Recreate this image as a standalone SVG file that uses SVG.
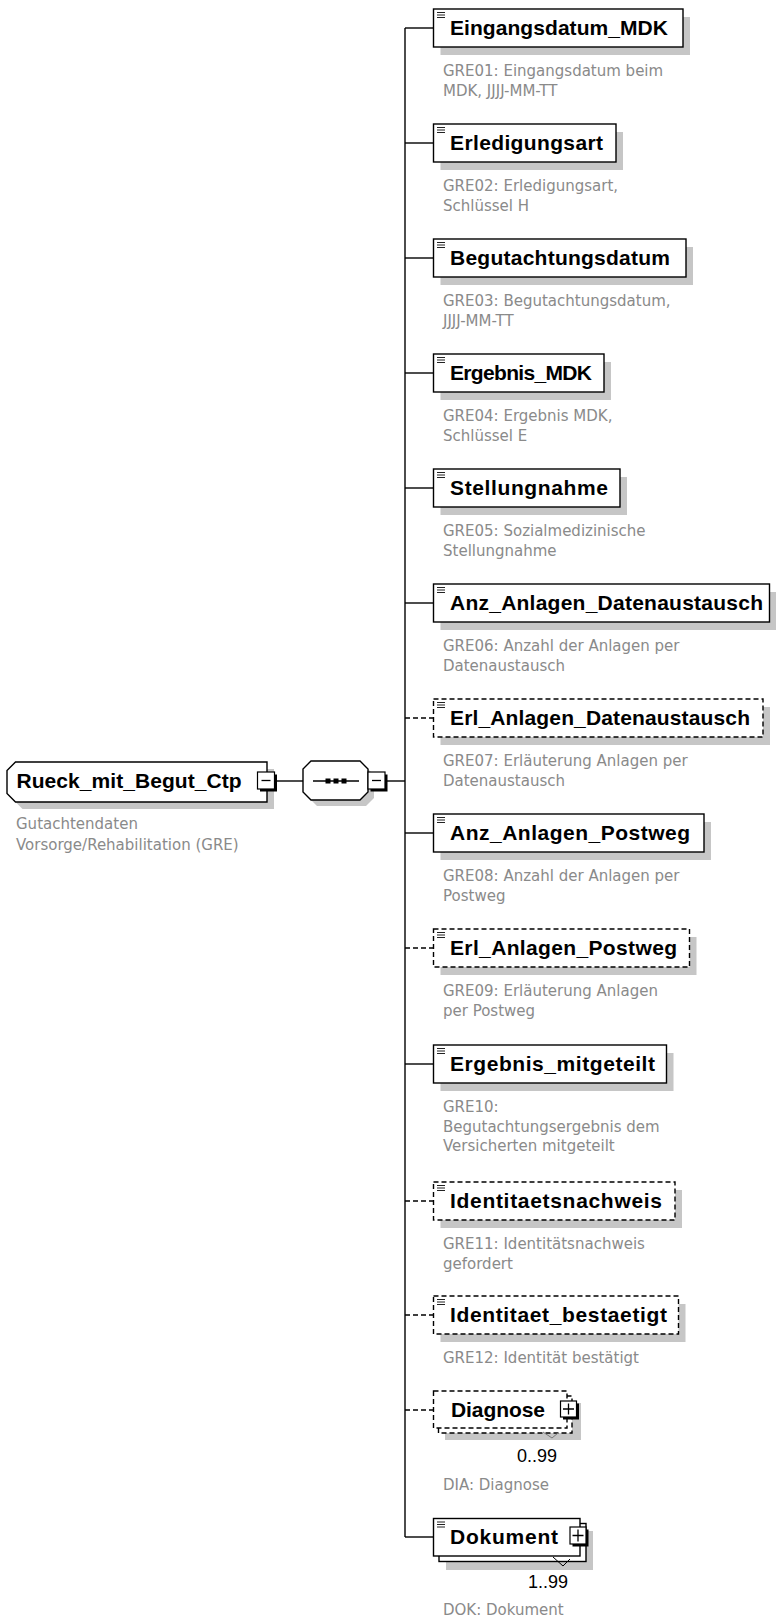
<svg xmlns="http://www.w3.org/2000/svg" xmlns:xlink="http://www.w3.org/1999/xlink" width="776" height="1621" viewBox="0 0 776 1621">
<style>
.bg{fill:#fff}
.box{fill:#fff;stroke:#000;stroke-width:1.4}
.dash{stroke-dasharray:5 3}
.shadow{fill:#c6c6c6}
.name{font-family:"Liberation Sans",Arial,sans-serif;font-weight:bold;font-size:21px;fill:#000}
.desc{font-family:"DejaVu Sans",Verdana,sans-serif;font-size:15px;fill:#8a8a8a}
.occ{font-family:"Liberation Sans",Arial,sans-serif;font-size:18px;fill:#000}
.conn line{stroke:#000;stroke-width:1.4}
.btn{fill:#fff;stroke:#000;stroke-width:1.2}
.btnsh{fill:#000}
.sign{stroke:#000;stroke-width:1.3;fill:none}
</style>
<defs>
<path id="ico" d="M0 0h8M0 2.5h8M0 5h8" stroke="#222" stroke-width="1" fill="none"/>
</defs>
<rect class="bg" x="0" y="0" width="776" height="1621"/>

<g id="connectors" class="conn">
<line x1="277" y1="781" x2="303" y2="781"/>
<line x1="387" y1="781" x2="405" y2="781"/>
<line x1="405" y1="28" x2="405" y2="1537"/>
<line x1="405" y1="28" x2="433.5" y2="28"/>
<line x1="405" y1="143" x2="433.5" y2="143"/>
<line x1="405" y1="258" x2="433.5" y2="258"/>
<line x1="405" y1="373" x2="433.5" y2="373"/>
<line x1="405" y1="488" x2="433.5" y2="488"/>
<line x1="405" y1="603" x2="433.5" y2="603"/>
<line class="dash" x1="405" y1="718" x2="433.5" y2="718"/>
<line x1="405" y1="833" x2="433.5" y2="833"/>
<line class="dash" x1="405" y1="948" x2="433.5" y2="948"/>
<line x1="405" y1="1064" x2="433.5" y2="1064"/>
<line class="dash" x1="405" y1="1201" x2="433.5" y2="1201"/>
<line class="dash" x1="405" y1="1315" x2="433.5" y2="1315"/>
<line class="dash" x1="405" y1="1410" x2="433.5" y2="1410"/>
<line x1="405" y1="1537" x2="433.5" y2="1537"/>
</g>

<g id="root">
<path class="shadow" d="M22.5 769 H274 V809 H22.5 L14 800.5 V777.5 Z"/>
<path class="box" d="M15.5 762 H267 V802 H15.5 L7 793.5 V770.5 Z"/>
<text class="name" x="16.5" y="788" textLength="225">Rueck_mit_Begut_Ctp</text>
<rect class="btnsh" x="260" y="774.5" width="17" height="17"/>
<rect class="btn" x="257.5" y="772" width="17" height="17"/>
<path class="sign" d="M261.5 780.5h9"/>
<text class="desc" x="16" y="829">Gutachtendaten</text>
<text class="desc" x="16" y="850">Vorsorge/Rehabilitation (GRE)</text>
</g>

<g id="sequence">
<path class="shadow" d="M317 767 H366 L374 775 V798 L366 806 H317 L309 798 V775 Z"/>
<path class="box" d="M311 761 H360 L368 769 V792 L360 800 H311 L303 792 V769 Z"/>
<path class="sign" d="M313 781H359"/>
<rect x="325.5" y="778.5" width="5" height="5" fill="#000"/>
<rect x="333.5" y="778.5" width="5" height="5" fill="#000"/>
<rect x="341.5" y="778.5" width="5" height="5" fill="#000"/>
<rect class="btnsh" x="370.5" y="774.5" width="17" height="17"/>
<rect class="btn" x="368" y="772" width="17" height="17"/>
<path class="sign" d="M372 780.5h9"/>
</g>

<g id="n01">
<rect class="shadow" x="440.5" y="17" width="249.5" height="38"/>
<rect class="box" x="433.5" y="9" width="249.5" height="38"/>
<use xlink:href="#ico" x="437" y="12.5"/>
<text class="name" x="450" y="35" textLength="218">Eingangsdatum_MDK</text>
<text class="desc" x="443" y="76">GRE01: Eingangsdatum beim</text>
<text class="desc" x="443" y="95.5">MDK, JJJJ-MM-TT</text>
</g>

<g id="n02">
<rect class="shadow" x="440.5" y="132" width="182.5" height="38"/>
<rect class="box" x="433.5" y="124" width="182.5" height="38"/>
<use xlink:href="#ico" x="437" y="127.5"/>
<text class="name" x="450" y="150" textLength="153">Erledigungsart</text>
<text class="desc" x="443" y="191">GRE02: Erledigungsart,</text>
<text class="desc" x="443" y="210.5">Schlüssel H</text>
</g>

<g id="n03">
<rect class="shadow" x="440.5" y="247" width="252.5" height="38"/>
<rect class="box" x="433.5" y="239" width="252.5" height="38"/>
<use xlink:href="#ico" x="437" y="242.5"/>
<text class="name" x="450" y="265" textLength="220">Begutachtungsdatum</text>
<text class="desc" x="443" y="306">GRE03: Begutachtungsdatum,</text>
<text class="desc" x="443" y="325.5">JJJJ-MM-TT</text>
</g>

<g id="n04">
<rect class="shadow" x="440.5" y="362" width="170.5" height="38"/>
<rect class="box" x="433.5" y="354" width="170.5" height="38"/>
<use xlink:href="#ico" x="437" y="357.5"/>
<text class="name" x="450" y="380" textLength="142">Ergebnis_MDK</text>
<text class="desc" x="443" y="421">GRE04: Ergebnis MDK,</text>
<text class="desc" x="443" y="440.5">Schlüssel E</text>
</g>

<g id="n05">
<rect class="shadow" x="440.5" y="477" width="186.5" height="38"/>
<rect class="box" x="433.5" y="469" width="186.5" height="38"/>
<use xlink:href="#ico" x="437" y="472.5"/>
<text class="name" x="450" y="495" textLength="158">Stellungnahme</text>
<text class="desc" x="443" y="536">GRE05: Sozialmedizinische</text>
<text class="desc" x="443" y="555.5">Stellungnahme</text>
</g>

<g id="n06">
<rect class="shadow" x="440.5" y="592" width="336" height="38"/>
<rect class="box" x="433.5" y="584" width="336" height="38"/>
<use xlink:href="#ico" x="437" y="587.5"/>
<text class="name" x="450" y="610" textLength="313">Anz_Anlagen_Datenaustausch</text>
<text class="desc" x="443" y="651">GRE06: Anzahl der Anlagen per</text>
<text class="desc" x="443" y="670.5">Datenaustausch</text>
</g>

<g id="n07">
<rect class="shadow" x="440.5" y="707" width="329.5" height="38"/>
<rect class="box dash" x="433.5" y="699" width="329.5" height="38"/>
<use xlink:href="#ico" x="437" y="702.5"/>
<text class="name" x="450" y="725" textLength="300">Erl_Anlagen_Datenaustausch</text>
<text class="desc" x="443" y="766">GRE07: Erläuterung Anlagen per</text>
<text class="desc" x="443" y="785.5">Datenaustausch</text>
</g>

<g id="n08">
<rect class="shadow" x="440.5" y="822" width="270.5" height="38"/>
<rect class="box" x="433.5" y="814" width="270.5" height="38"/>
<use xlink:href="#ico" x="437" y="817.5"/>
<text class="name" x="450" y="840" textLength="240">Anz_Anlagen_Postweg</text>
<text class="desc" x="443" y="881">GRE08: Anzahl der Anlagen per</text>
<text class="desc" x="443" y="900.5">Postweg</text>
</g>

<g id="n09">
<rect class="shadow" x="440.5" y="937" width="256" height="38"/>
<rect class="box dash" x="433.5" y="929" width="256" height="38"/>
<use xlink:href="#ico" x="437" y="932.5"/>
<text class="name" x="450" y="955" textLength="227">Erl_Anlagen_Postweg</text>
<text class="desc" x="443" y="996">GRE09: Erläuterung Anlagen</text>
<text class="desc" x="443" y="1015.5">per Postweg</text>
</g>

<g id="n10">
<rect class="shadow" x="440.5" y="1053" width="233" height="38"/>
<rect class="box" x="433.5" y="1045" width="233" height="38"/>
<use xlink:href="#ico" x="437" y="1048.5"/>
<text class="name" x="450" y="1071" textLength="205">Ergebnis_mitgeteilt</text>
<text class="desc" x="443" y="1112">GRE10:</text>
<text class="desc" x="443" y="1131.5">Begutachtungsergebnis dem</text>
<text class="desc" x="443" y="1151">Versicherten mitgeteilt</text>
</g>

<g id="n11">
<rect class="shadow" x="440.5" y="1190" width="241.5" height="38"/>
<rect class="box dash" x="433.5" y="1182" width="241.5" height="38"/>
<use xlink:href="#ico" x="437" y="1185.5"/>
<text class="name" x="450" y="1208" textLength="212">Identitaetsnachweis</text>
<text class="desc" x="443" y="1249">GRE11: Identitätsnachweis</text>
<text class="desc" x="443" y="1268.5">gefordert</text>
</g>

<g id="n12">
<rect class="shadow" x="440.5" y="1304" width="245" height="38"/>
<rect class="box dash" x="433.5" y="1296" width="245" height="38"/>
<use xlink:href="#ico" x="437" y="1299.5"/>
<text class="name" x="450" y="1322" textLength="217">Identitaet_bestaetigt</text>
<text class="desc" x="443" y="1363">GRE12: Identität bestätigt</text>
</g>

<g id="n13">
<rect class="shadow" x="445" y="1403" width="136" height="37"/>
<rect class="box dash" x="438.5" y="1396" width="133.5" height="37"/>
<rect class="box dash" x="433.5" y="1391" width="133.5" height="37"/>
<text class="name" x="451" y="1417" textLength="94">Diagnose</text>
<rect class="btnsh" x="563" y="1403.5" width="16" height="16"/>
<rect class="btn" x="560.5" y="1401" width="16" height="16"/>
<path class="sign" d="M563 1409h11M568.5 1403.5v11"/>
<polyline points="543,1432 552,1438 558,1433" fill="none" stroke="#777" stroke-width="1"/>
<text class="occ" x="557" y="1462" text-anchor="end">0..99</text>
<text class="desc" x="443" y="1490">DIA: Diagnose</text>
</g>

<g id="n14">
<rect class="shadow" x="446" y="1531" width="147" height="39"/>
<rect class="box" x="439" y="1523.5" width="147" height="38"/>
<rect class="box" x="433.5" y="1518.5" width="146.5" height="37.5"/>
<use xlink:href="#ico" x="437" y="1522"/>
<text class="name" x="450" y="1544" textLength="108">Dokument</text>
<rect class="btnsh" x="572.5" y="1529.5" width="16" height="17"/>
<rect class="btn" x="570" y="1527" width="16" height="17"/>
<path class="sign" d="M572.5 1535.5h11M578 1529.5v12"/>
<polyline points="553,1557 563,1566 570,1559" fill="none" stroke="#000" stroke-width="1"/>
<text class="occ" x="568" y="1588" text-anchor="end">1..99</text>
<text class="desc" x="443" y="1615">DOK: Dokument</text>
</g>
</svg>
